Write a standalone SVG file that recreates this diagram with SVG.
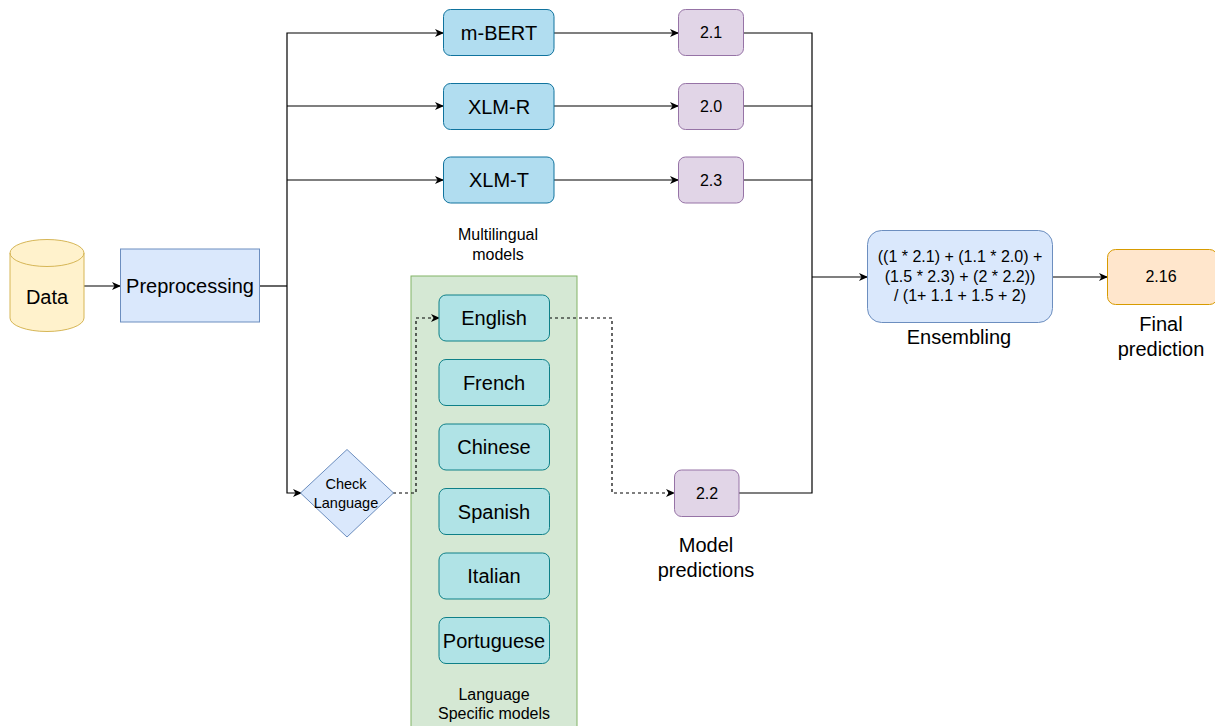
<svg xmlns="http://www.w3.org/2000/svg" width="1215" height="726" viewBox="0 0 1215 726">
<defs>
<marker id="arr" markerWidth="10" markerHeight="10" refX="8" refY="5" orient="auto" markerUnits="userSpaceOnUse">
<path d="M0,1 L9,5 L0,9 L2.5,5 Z" fill="#000"/>
</marker>
<style>
text{font-family:"Liberation Sans",Arial,sans-serif;fill:#000;text-anchor:middle}
.t20{font-size:20px}
.t16{font-size:16px}
.t15{font-size:14.5px}
.model{fill:#b1ddf0;stroke:#10739e;stroke-width:1}
.lang{fill:#b0e3e6;stroke:#0e8088;stroke-width:1}
.score{fill:#e1d5e7;stroke:#9673a6;stroke-width:1}
.edge{fill:none;stroke:#000;stroke-width:1.2}
.dash{fill:none;stroke:#000;stroke-width:1.2;stroke-dasharray:3 3}
</style>
</defs>
<rect width="1215" height="726" fill="#fff"/>

<g id="lang-container">
<rect x="411" y="276" width="166" height="460" fill="#d5e8d4" stroke="#82b366"/>
<text class="t16" x="494" y="694" dy="0.35em">Language</text>
<text class="t16" x="494" y="713" dy="0.35em">Specific models</text>
</g>

<g id="connectors">
<path class="edge" d="M84,286 H120" marker-end="url(#arr)"/>
<path class="edge" d="M259,286 H287" stroke-width="2"/>
<path class="edge" d="M287,286 V33 H443" marker-end="url(#arr)"/>
<path class="edge" d="M287,106 H443" marker-end="url(#arr)"/>
<path class="edge" d="M287,180 H443" marker-end="url(#arr)"/>
<path class="edge" d="M287,286 V493 H301" marker-end="url(#arr)"/>
<path class="edge" d="M554,33 H678" marker-end="url(#arr)"/>
<path class="edge" d="M554,106 H678" marker-end="url(#arr)"/>
<path class="edge" d="M554,180 H678" marker-end="url(#arr)"/>
<path class="edge" d="M743,33 H812 V277"/>
<path class="edge" d="M743,106 H812"/>
<path class="edge" d="M743,180 H812"/>
<path class="edge" d="M739,493 H812 V277"/>
<path class="edge" d="M812,277 H867" marker-end="url(#arr)" stroke-width="1.6"/>
<path class="edge" d="M1052,277 H1107" marker-end="url(#arr)"/>
<path class="dash" d="M393,493 H416 V318 H439" marker-end="url(#arr)"/>
<path class="dash" d="M549,318 H612 V493 H674" marker-end="url(#arr)"/>
</g>

<g id="data">
<path d="M10,253 A37,13.5 0 0 1 84,253 V318 A37,13.5 0 0 1 10,318 Z" fill="#fff2cc" stroke="#d6b656"/>
<path d="M10,253 A37,13.5 0 0 0 84,253" fill="none" stroke="#d6b656"/>
<text class="t20" x="47" y="297" dy="0.35em">Data</text>
</g>

<g id="preprocessing">
<rect x="120.5" y="249" width="139" height="73" fill="#dae8fc" stroke="#6c8ebf"/>
<text class="t20" x="190" y="286" dy="0.35em">Preprocessing</text>
</g>

<g id="mbert"><rect class="model" x="443.5" y="9.5" width="110.5" height="46" rx="7"/><text class="t20" x="499" y="32.5" dy="0.35em">m-BERT</text></g>
<g id="xlmr"><rect class="model" x="443.5" y="83.5" width="110.5" height="46" rx="7"/><text class="t20" x="499" y="106.5" dy="0.35em">XLM-R</text></g>
<g id="xlmt"><rect class="model" x="443.5" y="157" width="110.5" height="46" rx="7"/><text class="t20" x="499" y="180" dy="0.35em">XLM-T</text></g>

<g id="multilingual-label">
<text class="t16" x="498" y="234" dy="0.35em">Multilingual</text>
<text class="t16" x="498" y="254" dy="0.35em">models</text>
</g>

<g id="s21"><rect class="score" x="678.5" y="9.5" width="65" height="46" rx="7"/><text class="t16" x="711" y="32.5" dy="0.35em">2.1</text></g>
<g id="s20"><rect class="score" x="678.5" y="83.5" width="65" height="46" rx="7"/><text class="t16" x="711" y="106.5" dy="0.35em">2.0</text></g>
<g id="s23"><rect class="score" x="678.5" y="157" width="65" height="46" rx="7"/><text class="t16" x="711" y="180" dy="0.35em">2.3</text></g>
<g id="s22"><rect class="score" x="674.5" y="470" width="64.5" height="46.5" rx="7"/><text class="t16" x="707" y="493" dy="0.35em">2.2</text></g>

<g id="check-language">
<path d="M347,449.5 L393.5,493 L347,537 L300.5,493 Z" fill="#dae8fc" stroke="#6c8ebf"/>
<text class="t15" x="346" y="483.5" dy="0.35em">Check</text>
<text class="t15" x="346" y="502.5" dy="0.35em">Language</text>
</g>

<g id="english"><rect class="lang" x="439" y="295" width="110.5" height="46" rx="7"/><text class="t20" x="494" y="318" dy="0.35em">English</text></g>
<g id="french"><rect class="lang" x="439" y="359.5" width="110.5" height="46" rx="7"/><text class="t20" x="494" y="382.5" dy="0.35em">French</text></g>
<g id="chinese"><rect class="lang" x="439" y="424" width="110.5" height="46" rx="7"/><text class="t20" x="494" y="447" dy="0.35em">Chinese</text></g>
<g id="spanish"><rect class="lang" x="439" y="488.5" width="110.5" height="46" rx="7"/><text class="t20" x="494" y="511.5" dy="0.35em">Spanish</text></g>
<g id="italian"><rect class="lang" x="439" y="553" width="110.5" height="46" rx="7"/><text class="t20" x="494" y="576" dy="0.35em">Italian</text></g>
<g id="portuguese"><rect class="lang" x="439" y="617.5" width="110.5" height="46" rx="7"/><text class="t20" x="494" y="640.5" dy="0.35em">Portuguese</text></g>

<g id="model-predictions-label">
<text class="t20" x="706" y="545" dy="0.35em">Model</text>
<text class="t20" x="706" y="570" dy="0.35em">predictions</text>
</g>

<g id="ensembling">
<rect x="867.5" y="230.5" width="185" height="92" rx="14" fill="#dae8fc" stroke="#6c8ebf"/>
<text class="t16" x="960" y="256" dy="0.35em">((1 * 2.1) + (1.1 * 2.0) +</text>
<text class="t16" x="960" y="276" dy="0.35em">(1.5 * 2.3) + (2 * 2.2))</text>
<text class="t16" x="960" y="295.5" dy="0.35em">/ (1+ 1.1 + 1.5 + 2)</text>
<text class="t20" x="959" y="337" dy="0.35em">Ensembling</text>
</g>

<g id="final">
<rect x="1107.5" y="249.5" width="110" height="55" rx="8" fill="#ffe6cc" stroke="#d79b00"/>
<text class="t16" x="1161" y="276.5" dy="0.35em">2.16</text>
<text class="t20" x="1161" y="324" dy="0.35em">Final</text>
<text class="t20" x="1161" y="348.5" dy="0.35em">prediction</text>
</g>
</svg>
